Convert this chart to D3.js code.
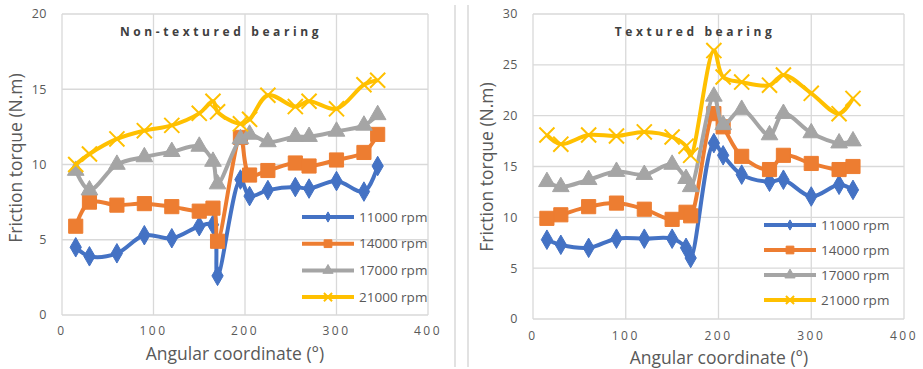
<!DOCTYPE html>
<html>
<head>
<meta charset="utf-8">
<script src="https://d3js.org/d3.v7.min.js"></script>
<style>
  body { margin: 0; background: #fff; }
  svg { display: block; font-family: "Open Sans", sans-serif; }
</style>
</head>
<body>
<svg id="chart" width="923" height="369"></svg>
<script>
// angular positions (deg) shared by every series
const angles = [15, 30, 60, 90, 120, 150, 165, 170, 195, 205, 225, 255, 270, 300, 330, 345];
const speeds = ["11000 rpm", "14000 rpm", "17000 rpm", "21000 rpm"];
const xTicks = [0, 100, 200, 300, 400];

// non-textured bearing, friction torque (N.m)
const plain11000 = [4.5, 3.9, 4.1, 5.3, 5.1, 5.9, 6.0, 2.6, 9.0, 7.9, 8.3, 8.5, 8.4, 8.9, 8.2, 9.9];
const plain14000 = [5.9, 7.5, 7.3, 7.4, 7.2, 6.9, 7.1, 4.9, 11.8, 9.3, 9.6, 10.1, 9.9, 10.3, 10.8, 12.0];
const plain17000 = [9.6, 8.3, 10.0, 10.5, 10.85, 11.2, 10.2, 8.7, 11.7, 12.0, 11.5, 11.85, 11.85, 12.2, 12.6, 13.3];
const plain21000 = [10.0, 10.7, 11.7, 12.25, 12.6, 13.4, 14.2, 13.5, 12.7, 13.0, 14.6, 13.85, 14.2, 13.7, 15.3, 15.6];
const plainYTicks = [0, 5, 10, 15, 20];

// textured bearing, friction torque (N.m)
const tex11000 = [7.8, 7.3, 7.0, 7.9, 7.9, 7.9, 7.0, 6.0, 17.3, 16.1, 14.2, 13.5, 13.7, 12.05, 13.2, 12.7];
const tex14000 = [9.9, 10.25, 11.05, 11.4, 10.8, 9.8, 10.5, 10.15, 20.2, 18.9, 16.0, 14.7, 16.1, 15.3, 14.7, 15.0];
const tex17000 = [13.5, 13.0, 13.7, 14.5, 14.2, 15.2, 13.8, 13.0, 21.9, 19.1, 20.6, 18.1, 20.2, 18.3, 17.3, 17.5];
const tex21000 = [18.1, 17.2, 18.1, 18.0, 18.4, 17.9, 17.0, 16.1, 26.4, 23.8, 23.3, 23.0, 24.0, 22.2, 20.2, 21.7];
const texYTicks = [0, 5, 10, 15, 20, 25, 30];

const colors = ["#4472C4", "#ED7D31", "#A5A5A5", "#FFC000"];
const shapes = [d3.symbolDiamond, d3.symbolSquare, d3.symbolTriangle, d3.symbolX];
const markSize = [110, 200, 120, 150];
const legendSize = [30, 60, 45, 45];

const svg = d3.select("#chart");

// the two thin separators between panels
[455, 468].forEach(x => {
  svg.append("line")
    .attr("x1", x).attr("x2", x).attr("y1", 5).attr("y2", 367)
    .attr("stroke", "#d9d9d9").attr("stroke-width", 1.5);
});

function drawPanel(cfg) {
  const x = d3.scaleLinear().domain([0, 400]).range([cfg.left, cfg.right]);
  const y = d3.scaleLinear().domain([0, cfg.yMax]).range([cfg.bottom, cfg.top]);
  const g = svg.append("g");

  // grid + frame
  g.selectAll(".gx").data(xTicks).join("line")
    .attr("x1", d => x(d)).attr("x2", d => x(d))
    .attr("y1", cfg.top).attr("y2", cfg.bottom)
    .attr("stroke", "#d9d9d9").attr("stroke-width", 1.3);
  g.selectAll(".gy").data(cfg.yTicks).join("line")
    .attr("x1", cfg.left).attr("x2", cfg.right)
    .attr("y1", d => y(d)).attr("y2", d => y(d))
    .attr("stroke", "#d9d9d9").attr("stroke-width", 1.3);

  // tick labels
  g.selectAll(".ty").data(cfg.yTicks).join("text")
    .attr("x", cfg.left - 15).attr("y", d => y(d))
    .attr("dy", "0.35em").attr("text-anchor", "end")
    .attr("font-size", 12.5).attr("fill", "#595959")
    .attr("letter-spacing", 0.5)
    .text(d => d);
  g.selectAll(".tx").data(xTicks).join("text")
    .attr("x", d => x(d)).attr("y", cfg.xLabelY)
    .attr("dy", "0.35em").attr("text-anchor", "middle")
    .attr("font-size", 12).attr("fill", "#595959")
    .attr("letter-spacing", 2.5)
    .text(d => d);

  // axis titles
  g.append("text")
    .attr("x", cfg.xTitleX).attr("y", cfg.xTitleY)
    .attr("dy", "0.35em").attr("text-anchor", "middle")
    .attr("font-size", 17.5).attr("fill", "#595959")
    .text("Angular coordinate (°)");
  g.append("text")
    .attr("transform", `translate(${cfg.yTitleX},${cfg.yTitleY}) rotate(-90)`)
    .attr("dy", "0.35em").attr("text-anchor", "middle")
    .attr("font-size", 17.5).attr("fill", "#595959")
    .text("Friction torque (N.m)");

  // panel title
  g.append("text")
    .attr("x", cfg.titleX).attr("y", 32)
    .attr("dy", "0.35em").attr("text-anchor", "middle")
    .attr("font-size", 12).attr("font-weight", "bold")
    .attr("letter-spacing", 3.6).attr("fill", "#404040")
    .text(cfg.title);

  const line = d3.line()
    .x((d, i) => x(angles[i]))
    .y(d => y(d))
    .curve(d3.curveCatmullRom.alpha(0.5));

  cfg.series.forEach((vals, s) => {
    g.append("path")
      .attr("d", line(vals))
      .attr("fill", "none")
      .attr("stroke", colors[s])
      .attr("stroke-width", 4)
      .attr("stroke-linejoin", "round");
    const sym = d3.symbol().type(shapes[s]).size(markSize[s]);
    g.selectAll(null).data(vals).join("path")
      .attr("transform", (d, i) => `translate(${x(angles[i])},${y(d)})`)
      .attr("d", sym)
      .attr("fill", s === 3 ? "none" : colors[s])
      .attr("stroke", colors[s])
      .attr("stroke-width", s === 3 ? 2 : 1);
  });

  // legend
  speeds.forEach((name, s) => {
    const ly = cfg.legendY + s * cfg.legendStep;
    const lg = g.append("g");
    lg.append("line")
      .attr("x1", cfg.legendX).attr("x2", cfg.legendX + 52)
      .attr("y1", ly).attr("y2", ly)
      .attr("stroke", colors[s]).attr("stroke-width", 4);
    lg.append("path")
      .attr("transform", `translate(${cfg.legendX + 26},${ly})`)
      .attr("d", d3.symbol().type(shapes[s]).size(legendSize[s]))
      .attr("fill", s === 3 ? "none" : colors[s])
      .attr("stroke", colors[s]).attr("stroke-width", s === 3 ? 2 : 1);
    lg.append("text")
      .attr("x", cfg.legendX + 57).attr("y", ly)
      .attr("dy", "0.35em").attr("font-size", 13.5).attr("fill", "#595959")
      .text(name);
  });
}

drawPanel({
  left: 62, right: 428, top: 14, bottom: 315, yMax: 20, yTicks: plainYTicks,
  xLabelY: 331, xTitleX: 235, xTitleY: 354, yTitleX: 16, yTitleY: 158,
  title: "Non-textured bearing", titleX: 221,
  series: [plain11000, plain14000, plain17000, plain21000],
  legendX: 302, legendY: 217, legendStep: 26.7
});

drawPanel({
  left: 533, right: 904, top: 14, bottom: 319, yMax: 30, yTicks: texYTicks,
  xLabelY: 336, xTitleX: 719, xTitleY: 358, yTitleX: 487, yTitleY: 167,
  title: "Textured bearing", titleX: 695,
  series: [tex11000, tex14000, tex17000, tex21000],
  legendX: 764, legendY: 225, legendStep: 25
});
</script>
</body>
</html>
